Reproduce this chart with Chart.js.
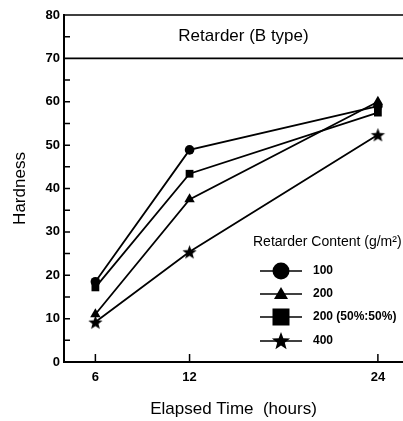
<!DOCTYPE html>
<html>
<head>
<meta charset="utf-8">
<script src="https://cdn.jsdelivr.net/npm/chart.js@4.4.1/dist/chart.umd.min.js"></script>
<style>
html,body{margin:0;padding:0;background:#fff;}
#wrap{width:403px;height:421px;}
</style>
</head>
<body>
<div id="wrap"><canvas id="c" width="403" height="421"></canvas></div>
<script>
// ---- data ----
const hours = [6, 12, 24];
const xTicks = [6, 12, 24];
const seriesLabels = ['100', '200', '200 (50%:50%)', '400'];
const s100 = [18.5, 48.9, 59.0];
const s200 = [11.0, 37.5, 60.0];
const s200mix = [17.2, 43.4, 57.5];
const s400 = [9.2, 25.4, 52.4];
const panelTitle = 'Retarder (B type)';
const legendTitle = 'Retarder Content (g/m²)';
const xTitle = 'Elapsed Time  (hours)';
const yTitle = 'Hardness';

const FONT = 'Arial, "Liberation Sans", Helvetica, sans-serif';

function starCanvas(r) {
  const size = Math.ceil(r * 2 + 2);
  const cv = document.createElement('canvas');
  cv.width = size; cv.height = size;
  const g = cv.getContext('2d');
  drawStar(g, size / 2, size / 2 + r * 0.1, r);
  return cv;
}
function drawStar(g, cx, cy, r) {
  const ri = r * 0.42;
  g.beginPath();
  for (let i = 0; i < 10; i++) {
    const a = -Math.PI / 2 + i * Math.PI / 5;
    const rr = i % 2 === 0 ? r : ri;
    const x = cx + rr * Math.cos(a), y = cy + rr * Math.sin(a);
    if (i === 0) g.moveTo(x, y); else g.lineTo(x, y);
  }
  g.closePath();
  g.fillStyle = '#000';
  g.fill();
}

const starImg = starCanvas(7.5);

function pts(vals) { return hours.map((h, i) => ({x: h, y: vals[i]})); }

const common = {borderColor: '#000', backgroundColor: '#000', borderWidth: 1.8, tension: 0, pointBorderWidth: 0};

const datasets = [
  Object.assign({label: seriesLabels[0], data: pts(s100), pointStyle: 'circle', pointRadius: 4.8, lgStyle: 'circle'}, common),
  Object.assign({label: seriesLabels[1], data: pts(s200), pointStyle: 'triangle', pointRadius: 6, lgStyle: 'triangle'}, common),
  Object.assign({label: seriesLabels[2], data: pts(s200mix), pointStyle: 'rect', pointRadius: 5.5, lgStyle: 'rect'}, common),
  Object.assign({label: seriesLabels[3], data: pts(s400), pointStyle: starImg, pointRadius: 7.5, lgStyle: 'star'}, common)
];

const decor = {
  id: 'decor',
  afterDraw(chart) {
    const {ctx, chartArea: a, scales: {x, y}} = chart;
    ctx.save();
    ctx.strokeStyle = '#000';
    ctx.lineWidth = 1.6;
    ctx.beginPath();
    ctx.moveTo(a.left, y.getPixelForValue(80)); ctx.lineTo(a.right, y.getPixelForValue(80));
    ctx.moveTo(a.left, y.getPixelForValue(70)); ctx.lineTo(a.right, y.getPixelForValue(70));
    ctx.stroke();
    ctx.fillStyle = '#000';
    ctx.font = '17px ' + FONT;
    ctx.textAlign = 'center'; ctx.textBaseline = 'middle';
    ctx.fillText(panelTitle, (a.left + a.right) / 2 + 10, y.getPixelForValue(75));
    ctx.lineWidth = 1.5;
    ctx.beginPath();
    for (let v = 5; v < 80; v += 5) {
      if (v === 70) continue;
      const py = y.getPixelForValue(v);
      ctx.moveTo(a.left, py); ctx.lineTo(a.left + 6, py);
    }
    xTicks.forEach(v => {
      const px = x.getPixelForValue(v);
      ctx.moveTo(px, a.bottom); ctx.lineTo(px, a.bottom - 8);
    });
    ctx.stroke();

    ctx.font = '14px ' + FONT;
    ctx.textAlign = 'left'; ctx.textBaseline = 'middle';
    ctx.fillText(legendTitle, 253, 242);
    const rows = [271, 294, 317, 341];
    ctx.font = 'bold 12px ' + FONT;
    chart.data.datasets.forEach((ds, i) => {
      const yy = rows[i];
      ctx.lineWidth = 1.6;
      ctx.beginPath(); ctx.moveTo(260, yy); ctx.lineTo(302, yy); ctx.stroke();
      const cx = 281;
      ctx.fillStyle = '#000';
      if (ds.lgStyle === 'circle') {
        ctx.beginPath(); ctx.arc(cx, yy, 8.5, 0, Math.PI * 2); ctx.fill();
      } else if (ds.lgStyle === 'triangle') {
        ctx.beginPath(); ctx.moveTo(cx, yy - 7); ctx.lineTo(cx + 7, yy + 5); ctx.lineTo(cx - 7, yy + 5); ctx.closePath(); ctx.fill();
      } else if (ds.lgStyle === 'rect') {
        ctx.fillRect(cx - 8.5, yy - 8.5, 17, 17);
      } else {
        drawStar(ctx, cx, yy + 0.5, 9.5);
      }
      ctx.fillText(ds.label, 313, yy);
    });
    ctx.restore();
  }
};

new Chart(document.getElementById('c'), {
  type: 'line',
  data: {datasets},
  options: {
    responsive: false,
    animation: false,
    devicePixelRatio: 1,
    layout: {autoPadding: false, padding: {top: 15, right: 0, left: 0, bottom: 0}},
    plugins: {legend: {display: false}, tooltip: {enabled: false}, title: {display: false}},
    scales: {
      x: {
        type: 'linear', min: 4, max: 25.6,
        afterBuildTicks: s => { s.ticks = xTicks.map(v => ({value: v})); },
        afterFit: s => { s.height = 59; s.paddingRight = 0; s.paddingLeft = 0; },
        grid: {display: false, drawTicks: false},
        border: {display: true, color: '#000', width: 2},
        ticks: {color: '#000', font: {family: FONT, size: 13, weight: 'bold'}, padding: 8, maxRotation: 0},
        title: {display: true, text: xTitle, color: '#000', font: {family: FONT, size: 17}, padding: {top: 0, bottom: 1}}
      },
      y: {
        min: 0, max: 80,
        afterFit: s => { s.width = 64; s.paddingTop = 0; s.paddingBottom = 0; },
        grid: {display: false, drawTicks: false},
        border: {display: true, color: '#000', width: 2},
        ticks: {stepSize: 10, color: '#000', font: {family: FONT, size: 13, weight: 'bold'}, padding: 4},
        title: {display: true, text: yTitle, color: '#000', font: {family: FONT, size: 17}, padding: {top: 10, bottom: 0}}
      }
    }
  },
  plugins: [decor]
});
</script>
</body>
</html>
